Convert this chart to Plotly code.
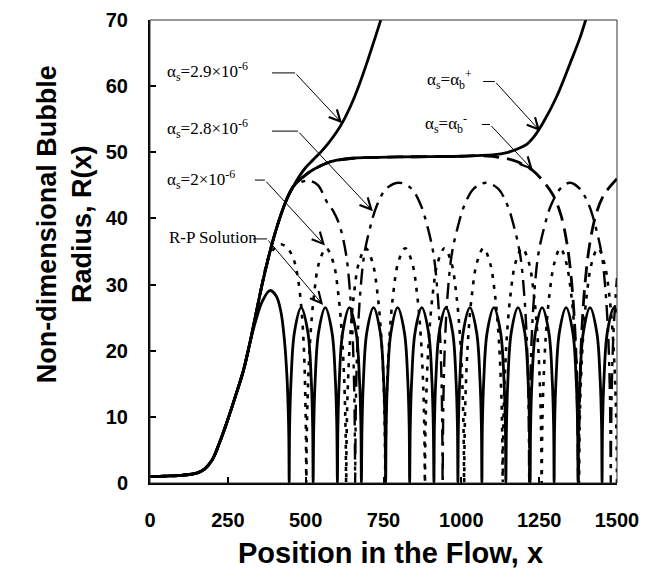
import plotly.graph_objects as go

# ---------------- data ----------------
# shared initial growth of all solutions
base_x = [0, 50, 100, 150, 175, 200, 225, 250, 275, 300, 320]
base_y = [1.0, 1.05, 1.15, 1.5, 2.1, 3.5, 6.3, 9.6, 13.2, 17.0, 21.0]
rise_x = [340, 360, 380, 400, 420, 440, 460]
rise_y = [25.5, 30.0, 34.0, 37.5, 40.5, 43.0, 44.8]

# R-P solution
rp_x = [340, 360, 385, 405, 420, 432, 440, 444, 446, 447,
        448.5, 453, 464, 485.5, 507, 518, 522.5, 524,
        526, 530.5, 541.5, 563, 584.5, 595.5, 600, 602,
        603.5, 608, 619, 640.5, 662, 673, 677.5, 679,
        681, 685.5, 696.5, 718, 739.5, 750.5, 755, 757,
        758.5, 763, 774, 795.5, 817, 828, 832.5, 834,
        836, 840.5, 851.5, 873, 894.5, 905.5, 910, 912,
        913.5, 918, 929, 950.5, 972, 983, 987.5, 989,
        990.5, 995, 1006, 1027.5, 1049, 1060, 1064.5, 1066,
        1067.5, 1072, 1083, 1104.5, 1126, 1137, 1141.5, 1143,
        1145, 1149.5, 1160.5, 1182, 1203.5, 1214.5, 1219, 1221,
        1222.5, 1227, 1238, 1259.5, 1281, 1292, 1296.5, 1298,
        1299.5, 1304, 1315, 1336.5, 1358, 1369, 1373.5, 1375,
        1376.5, 1381, 1392, 1413.5, 1435, 1446, 1450.5, 1452,
        1453.5, 1458, 1469, 1490.5, 1500]
rp_y = [24.6, 27.4, 29.1, 28.3, 26.0, 21.5, 16.0, 11.0, 6.5, 0,
        8.5, 15.5, 22.8, 26.5, 22.8, 15.5, 8.5, 0,
        8.5, 15.5, 22.8, 26.5, 22.8, 15.5, 8.5, 0,
        8.5, 15.5, 22.8, 26.5, 22.8, 15.5, 8.5, 0,
        8.5, 15.5, 22.8, 26.5, 22.8, 15.5, 8.5, 0,
        8.5, 15.5, 22.8, 26.5, 22.8, 15.5, 8.5, 0,
        8.5, 15.5, 22.8, 26.5, 22.8, 15.5, 8.5, 0,
        8.5, 15.5, 22.8, 26.5, 22.8, 15.5, 8.5, 0,
        8.5, 15.5, 22.8, 26.5, 22.8, 15.5, 8.5, 0,
        8.5, 15.5, 22.8, 26.5, 22.8, 15.5, 8.5, 0,
        8.5, 15.5, 22.8, 26.5, 22.8, 15.5, 8.5, 0,
        8.5, 15.5, 22.8, 26.5, 22.8, 15.5, 8.5, 0,
        8.5, 15.5, 22.8, 26.5, 22.8, 15.5, 8.5, 0,
        8.5, 15.5, 22.8, 26.5, 22.8, 15.5, 8.5, 0,
        8.5, 15.5, 22.8, 26.5, 25.8]

# alpha_s = 2e-6
a20_x = [400, 420, 440, 460, 475, 487, 495, 499, 501, 502,
         503.5, 507, 515, 527, 543, 566, 589, 605, 617, 625, 628.5, 630,
         631.5, 635, 643, 655, 671, 693, 715, 731, 743, 751, 754.5, 756,
         757.5, 761, 769, 781, 797, 819.5, 842, 858, 870, 878, 881.5, 883,
         884.5, 888, 896, 908, 924, 946, 968, 984, 996, 1004, 1007.5, 1009,
         1010.5, 1014, 1022, 1034, 1050, 1071, 1092, 1108, 1120, 1128, 1131.5, 1133,
         1134.5, 1138, 1146, 1158, 1174, 1195.5, 1217, 1233, 1245, 1253, 1256.5, 1258,
         1259.5, 1263, 1271, 1283, 1299, 1318, 1337, 1353, 1365, 1373, 1376.5, 1378,
         1379.5, 1383, 1391, 1403, 1419, 1439, 1459, 1475, 1487, 1495, 1498.5, 1500]
a20_y = [35.5, 36.1, 35.6, 34.0, 31.0, 26.0, 19.5, 12.5, 6.5, 0,
         7, 14, 22, 28.5, 33.3, 35.5, 33.3, 28.5, 22, 14, 7, 0,
         7, 14, 22, 28.5, 33.3, 35.5, 33.3, 28.5, 22, 14, 7, 0,
         7, 14, 22, 28.5, 33.3, 35.5, 33.3, 28.5, 22, 14, 7, 0,
         7, 14, 22, 28.5, 33.3, 35.5, 33.3, 28.5, 22, 14, 7, 0,
         7, 14, 22, 28.5, 33.3, 35.5, 33.3, 28.5, 22, 14, 7, 0,
         7, 14, 22, 28.5, 33.3, 35.5, 33.3, 28.5, 22, 14, 7, 0,
         7, 14, 22, 28.5, 33.3, 35.5, 33.3, 28.5, 22, 14, 7, 0,
         7, 14, 22, 28.5, 33.3, 35.5, 33.3, 28.5, 22, 14, 7, 0]

# alpha_s = 2.8e-6
a28_x = [480, 500, 514, 540, 568, 590, 610, 630, 643, 651, 656, 658, 659,
         660, 662, 667, 675, 688, 708, 729, 759, 799.5, 840, 870, 891, 911, 924, 932, 937, 939, 940,
         941, 943, 948, 956, 969, 989, 1010, 1040, 1079, 1118, 1148, 1169, 1189, 1202, 1210, 1215, 1217, 1218,
         1219, 1221, 1226, 1234, 1247, 1267, 1288, 1318, 1349, 1380, 1410, 1431, 1451, 1464, 1472, 1477, 1479, 1480,
         1481, 1483, 1488, 1496, 1500]
a28_y = [45.4, 45.7, 45.7, 45.0, 42.5, 41.0, 38.8, 34.5, 28.5, 22.0, 14.0, 7.0, 0,
         7, 14, 22, 28.5, 34.5, 38.8, 42, 44.5, 45.4, 44.5, 42, 38.8, 34.5, 28.5, 22, 14, 7, 0,
         7, 14, 22, 28.5, 34.5, 38.8, 42, 44.5, 45.4, 44.5, 42, 38.8, 34.5, 28.5, 22, 14, 7, 0,
         7, 14, 22, 28.5, 34.5, 38.8, 42, 44.5, 45.4, 44.5, 42, 38.8, 34.5, 28.5, 22, 14, 7, 0,
         7, 14, 22, 28.5, 31]

# alpha_s = 2.9e-6
a29_x = [480, 500, 525, 550, 575, 600, 625, 650, 675, 700, 725, 750]
a29_y = [46.4, 47.7, 48.9, 50.1, 51.5, 53.1, 55.1, 57.6, 60.6, 64.0, 67.6, 71.3]

# plateau shared by alpha_b+ and alpha_b-
plat_x = [480, 500, 525, 550, 575, 600, 650, 700, 800, 900, 1000, 1050]
plat_y = [45.8, 46.6, 47.4, 48.0, 48.5, 48.8, 49.1, 49.2, 49.3, 49.35, 49.4, 49.5]
bplus_x = [1100, 1150, 1180, 1210, 1231, 1263, 1306, 1349, 1381, 1402, 1412]
bplus_y = [49.6, 50.0, 50.5, 51.2, 52.2, 54.5, 58.4, 63.4, 67.3, 70.4, 72.0]
bminus_x = [1075, 1100, 1124, 1150, 1178, 1200, 1228, 1260, 1295, 1320, 1340, 1355, 1365,
            1371, 1374, 1376, 1378, 1381, 1387, 1397, 1412, 1432, 1457, 1500]
bminus_y = [49.45, 49.4, 49.2, 49.0, 48.6, 48.1, 47.3, 45.8, 43.5, 40.5, 36.0, 30.0, 23.0,
            15.0, 8.0, 0, 8.0, 15.0, 23.0, 30.0, 36.0, 40.5, 43.5, 46.0]

x_ticks = [0, 250, 500, 750, 1000, 1250, 1500]
y_ticks = [0, 10, 20, 30, 40, 50, 60, 70]

# ---------------- figure ----------------
fig = go.Figure()

def add(xs, ys, dash, width):
    fig.add_trace(go.Scatter(x=xs, y=ys, mode="lines",
                             line=dict(color="black", width=width, dash=dash,
                                       shape="spline", smoothing=1.0),
                             showlegend=False, hoverinfo="skip"))

add(base_x + rise_x[:2] + [380] + a20_x, base_y + rise_y[:2] + [34.0] + a20_y, "4px,7px", 2.6)
add(base_x + rise_x + a28_x, base_y + rise_y + a28_y, "16px,7px,4px,7px", 2.4)
add(base_x + rise_x + plat_x + bminus_x, base_y + rise_y + plat_y + bminus_y, "16px,8px", 2.8)
add(base_x + rp_x, base_y + rp_y, "solid", 2.8)
add(base_x + rise_x + a29_x, base_y + rise_y + a29_y, "solid", 2.8)
add(base_x + rise_x + plat_x + bplus_x, base_y + rise_y + plat_y + bplus_y, "solid", 2.8)

lab_font = dict(family="Liberation Serif", size=17, color="black")
labels = [
    # text, text x, text y, bend start x, bend x, bend y, tip x, tip y
    ("α<sub>s</sub>=2.9×10<sup>-6</sup>", 48, 62.2, 392, 466, 62.0, 617, 54.4),
    ("α<sub>s</sub>=2.8×10<sup>-6</sup>", 48, 53.6, 392, 475, 53.2, 716, 41.1),
    ("α<sub>s</sub>=2×10<sup>-6</sup>", 48, 45.9, 337, 369, 45.8, 562, 35.9),
    ("R-P Solution", 55, 37.1, 331, 376, 36.9, 556, 26.9),
    ("α<sub>s</sub>=α<sub>b</sub><sup>+</sup>", 883, 61.0, 1070, 1108, 60.7, 1253, 53.2),
    ("α<sub>s</sub>=α<sub>b</sub><sup>-</sup>", 877, 54.4, 1066, 1092, 54.2, 1230, 47.3),
]
annotations = []
shapes = []
for t, tx, ty, sx, bx, by, px, py in labels:
    annotations.append(dict(x=tx, y=ty, xref="x", yref="y", text=t, showarrow=False,
                            xanchor="left", yanchor="middle", font=lab_font))
    shapes.append(dict(type="line", xref="x", yref="y", x0=sx, y0=by, x1=bx, y1=by,
                       line=dict(color="black", width=1)))
    annotations.append(dict(x=px, y=py, ax=bx, ay=by, xref="x", yref="y", axref="x", ayref="y",
                            text="", showarrow=True, arrowhead=5, arrowsize=2.2,
                            arrowwidth=1, arrowcolor="black", standoff=0))

annotations.append(dict(x=0.516, y=-0.152, xref="paper", yref="paper",
                        text="Position in the Flow, x", showarrow=False,
                        xanchor="center", yanchor="middle",
                        font=dict(family="Liberation Sans", size=29, color="black", weight="bold")))
annotations.append(dict(x=-0.184, y=0.559, xref="paper", yref="paper",
                        text="Non-dimensional Bubble<br>Radius, R(x)", showarrow=False,
                        textangle=-90, xanchor="center", yanchor="middle",
                        font=dict(family="Liberation Sans", size=27, color="black", weight="bold")))

shapes.append(dict(type="rect", xref="paper", yref="paper", x0=0, y0=0, x1=1, y1=1,
                   line=dict(color="#333", width=1)))

tick_font = dict(family="Liberation Sans", size=20, color="black", weight="bold")
fig.update_layout(
    width=672, height=586,
    margin=dict(l=150, r=55, t=9, b=103),
    paper_bgcolor="white", plot_bgcolor="white",
    font=dict(family="Liberation Sans", color="black"),
    xaxis=dict(range=[0, 1500], tickvals=x_ticks, ticks="inside", ticklen=6, tickwidth=1.5,
               tickcolor="black", showgrid=False, zeroline=False, showline=True,
               linecolor="black", linewidth=2, tickfont=tick_font, ticklabelstandoff=18,
               ticklabeloverflow="allow"),
    yaxis=dict(range=[0, 70], tickvals=y_ticks, ticks="inside", ticklen=6, tickwidth=1.5,
               tickcolor="black", showgrid=False, zeroline=False, showline=True,
               linecolor="black", linewidth=2, tickfont=tick_font, ticklabelstandoff=16,
               ticklabeloverflow="allow"),
    annotations=annotations,
    shapes=shapes,
)

fig.write_html("out.html", config={"displayModeBar": False},
               post_script="document.body.style.margin='0px';")
